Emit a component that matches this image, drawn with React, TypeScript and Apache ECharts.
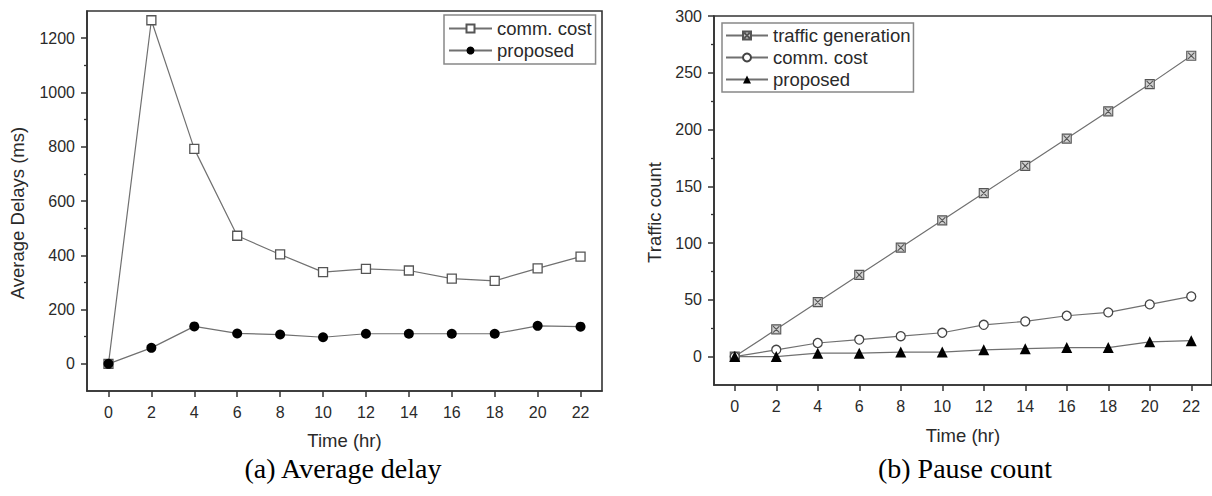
import React, { useEffect, useRef } from "react";
import * as echarts from "echarts";

// ---- data ----
const hours = [0, 2, 4, 6, 8, 10, 12, 14, 16, 18, 20, 22];
const delayCommCost = [0, 1266, 792, 472, 403, 338, 350, 344, 314, 306, 352, 395];
const delayProposed = [0, 59, 138, 112, 108, 98, 111, 111, 111, 111, 140, 137];
const delayTicks = [0, 200, 400, 600, 800, 1000, 1200];
const delayMinorTicks = [100, 300, 500, 700, 900, 1100];

const trafficGeneration = [0, 24, 48, 72, 96, 120, 144, 168, 192, 216, 240, 265];
const trafficCommCost = [0, 6, 12, 15, 18, 21, 28, 31, 36, 39, 46, 53];
const trafficProposed = [0, 0, 3, 3, 4, 4, 6, 7, 8, 8, 13, 14];
const countTicks = [0, 50, 100, 150, 200, 250, 300];
const countMinorTicks = [25, 75, 125, 175, 225, 275];

const FONT = '"Liberation Sans", Arial, Helvetica, sans-serif';
const SERIF = '"Liberation Serif", "Times New Roman", serif';
const AXIS_COLOR = "#333";
const TEXT_COLOR = "#2a2a2a";
const LINE_COLOR = "#707070";
const FS_TICK = 16;
const FS_NAME = 18.5;
const FS_LEGEND = 18.5;
const CROSSED_SQUARE = "path://M0,0H10V10H0Z M1.5,1.5L8.5,8.5 M8.5,1.5L1.5,8.5";

const pairs = (ys: number[]) => hours.map((h, i) => [h, ys[i]]);
const plain = (v: number) => String(v);

function xAxisCfg(nameGap: number) {
  return {
    type: "value",
    min: -1,
    max: 23,
    axisLine: { show: true, onZero: false, lineStyle: { color: AXIS_COLOR, width: 1.6 } },
    axisTick: { show: true, customValues: hours, length: 6, lineStyle: { color: AXIS_COLOR, width: 1.5 } },
    axisLabel: { customValues: hours, formatter: plain, margin: 13, fontSize: FS_TICK, color: TEXT_COLOR, fontFamily: FONT },
    splitLine: { show: false },
    name: "Time (hr)",
    nameLocation: "middle",
    nameGap,
    nameTextStyle: { fontSize: FS_NAME, color: TEXT_COLOR, fontFamily: FONT },
  };
}

function yAxisCfg(min: number, max: number, ticks: number[], name: string, nameGap: number) {
  return {
    type: "value",
    min,
    max,
    axisLine: { show: true, onZero: false, lineStyle: { color: AXIS_COLOR, width: 1.6 } },
    axisTick: { show: true, customValues: ticks, length: 6, lineStyle: { color: AXIS_COLOR, width: 1.5 } },
    axisLabel: { customValues: ticks, formatter: plain, margin: 12, fontSize: FS_TICK, color: TEXT_COLOR, fontFamily: FONT },
    splitLine: { show: false },
    name,
    nameLocation: "middle",
    nameGap,
    nameTextStyle: { fontSize: FS_NAME, color: TEXT_COLOR, fontFamily: FONT, padding: [0, 24, 0, 0] },
  };
}

function yMinorCfg(min: number, max: number, ticks: number[]) {
  return {
    type: "value",
    min,
    max,
    position: "left",
    axisLine: { show: false, onZero: false },
    axisTick: { show: true, customValues: ticks, length: 3, lineStyle: { color: AXIS_COLOR, width: 1.3 } },
    axisLabel: { show: false },
    splitLine: { show: false },
  };
}

const legendText = { fontSize: FS_LEGEND, color: TEXT_COLOR, fontFamily: FONT };

function caption(x: number, text: string) {
  return {
    type: "text",
    x,
    y: 468,
    style: {
      text,
      font: `28px ${SERIF}`,
      fill: "#000",
      textAlign: "center",
      textVerticalAlign: "middle",
    },
  };
}

const leftOption = {
  animation: false,
  backgroundColor: "#fff",
  grid: { left: 85, top: 11, width: 517, height: 380, show: true, borderColor: AXIS_COLOR, borderWidth: 1.6 },
  xAxis: xAxisCfg(40),
  yAxis: [
    yAxisCfg(-100, 1300, delayTicks, "Average Delays (ms)", 60),
    yMinorCfg(-100, 1300, delayMinorTicks),
  ],
  legend: {
    orient: "vertical",
    left: 444,
    top: 15,
    padding: [4, 4, 4, 4],
    itemGap: 3,
    itemWidth: 43,
    itemHeight: 10,
    borderColor: "#888",
    borderWidth: 1.5,
    textStyle: legendText,
    data: ["comm. cost", "proposed"],
  },
  series: [
    {
      name: "comm. cost",
      type: "line",
      data: pairs(delayCommCost),
      symbol: "rect",
      symbolSize: 9,
      lineStyle: { color: LINE_COLOR, width: 1.2 },
      itemStyle: { color: "#fff", borderColor: "#555", borderWidth: 1.3 },
    },
    {
      name: "proposed",
      type: "line",
      data: pairs(delayProposed),
      symbol: "circle",
      symbolSize: 10,
      lineStyle: { color: LINE_COLOR, width: 1.2 },
      itemStyle: { color: "#000", borderColor: "#000", borderWidth: 0 },
    },
  ],
  graphic: [caption(343, "(a) Average delay")],
};

const rightOption = {
  animation: false,
  backgroundColor: "#fff",
  grid: { left: 108, top: 16, width: 502, height: 369, show: true, borderColor: AXIS_COLOR, borderWidth: 1.6 },
  xAxis: xAxisCfg(41),
  yAxis: [
    yAxisCfg(-25, 300, countTicks, "Traffic count", 49),
    yMinorCfg(-25, 300, countMinorTicks),
  ],
  legend: {
    orient: "vertical",
    left: 116,
    top: 23,
    padding: [3, 3, 3, 3],
    itemGap: 3,
    itemWidth: 42,
    itemHeight: 10,
    borderColor: "#888",
    borderWidth: 1.5,
    textStyle: legendText,
    data: ["traffic generation", "comm. cost", "proposed"],
  },
  series: [
    {
      name: "traffic generation",
      type: "line",
      data: pairs(trafficGeneration),
      symbol: CROSSED_SQUARE,
      symbolSize: 9,
      lineStyle: { color: LINE_COLOR, width: 1.2 },
      itemStyle: { color: "#d0d0d0", borderColor: "#555", borderWidth: 1.1 },
    },
    {
      name: "comm. cost",
      type: "line",
      data: pairs(trafficCommCost),
      symbol: "circle",
      symbolSize: 9,
      lineStyle: { color: LINE_COLOR, width: 1.2 },
      itemStyle: { color: "#fff", borderColor: "#444", borderWidth: 1.3 },
    },
    {
      name: "proposed",
      type: "line",
      data: pairs(trafficProposed),
      symbol: "triangle",
      symbolSize: 11,
      lineStyle: { color: LINE_COLOR, width: 1.2 },
      itemStyle: { color: "#000", borderColor: "#000", borderWidth: 0 },
    },
  ],
  graphic: [caption(359, "(b) Pause count")],
};

function Chart({ option, left, width }: { option: any; left: number; width: number }) {
  const ref = useRef<HTMLDivElement>(null);
  useEffect(() => {
    if (!ref.current) return;
    const chart = echarts.init(ref.current, undefined, { renderer: "svg" });
    chart.setOption(option);
    return () => chart.dispose();
  }, [option]);
  return <div ref={ref} style={{ position: "absolute", left, top: 0, width, height: 496 }} />;
}

export default function App() {
  return (
    <div style={{ position: "fixed", left: 0, top: 0, width: 1212, height: 496, background: "#fff", overflow: "hidden" }}>
      <Chart option={leftOption} left={0} width={606} />
      <Chart option={rightOption} left={606} width={606} />
    </div>
  );
}
